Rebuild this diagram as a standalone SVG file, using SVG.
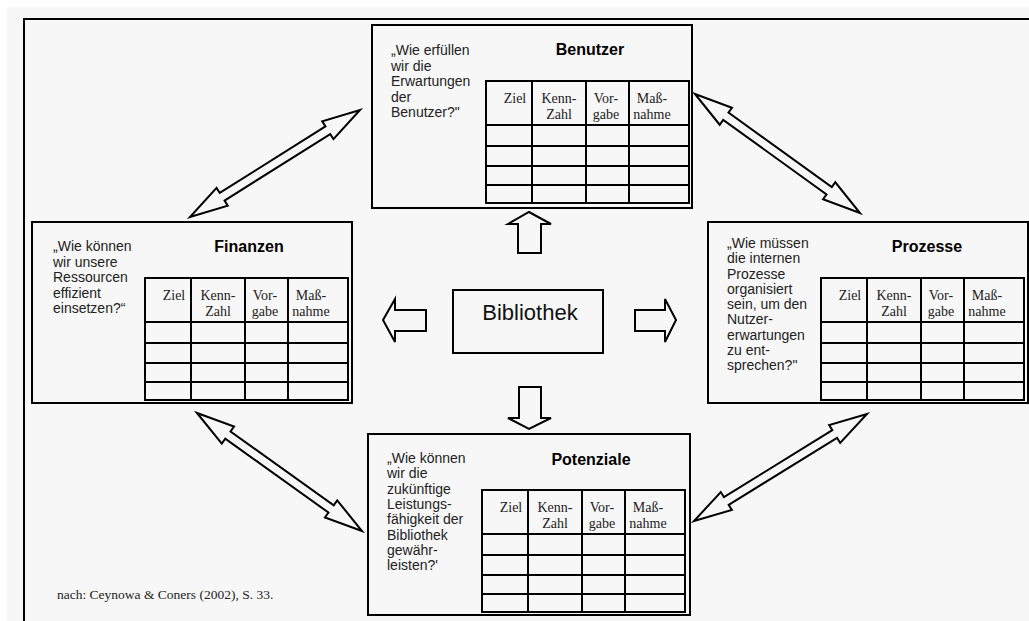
<svg xmlns="http://www.w3.org/2000/svg" xmlns:xlink="http://www.w3.org/1999/xlink" width="1029" height="621" viewBox="0 0 1029 621">
<style>
.box{fill:#f7f7f7;stroke:#000;stroke-width:2}
.grid rect,.grid line{fill:none;stroke:#000;stroke-width:2}
.q{font-family:"Liberation Sans",Arial,sans-serif;font-size:14px;fill:#222}
.t{font-family:"Liberation Sans",Arial,sans-serif;font-size:16px;font-weight:bold;text-anchor:middle;fill:#000}
.h{font-family:"Liberation Serif","Times New Roman",serif;font-size:14px;text-anchor:middle;fill:#222}
.c{font-family:"Liberation Sans",Arial,sans-serif;font-size:22px;text-anchor:middle;fill:#111}
.arrow{fill:#f7f7f7;stroke:#000;stroke-width:2;stroke-linejoin:miter}
.frame{stroke:#000;stroke-width:2;fill:none}
.note{font-family:"Liberation Serif","Times New Roman",serif;font-size:13.5px;fill:#222}
</style>
<defs>
<g id="grid" class="grid">
<rect x="0" y="0" width="203" height="122"/>
<line x1="46" y1="0" x2="46" y2="122"/>
<line x1="100" y1="0" x2="100" y2="122"/>
<line x1="143" y1="0" x2="143" y2="122"/>
<line x1="0" y1="44" x2="203" y2="44"/>
<line x1="0" y1="65" x2="203" y2="65"/>
<line x1="0" y1="85" x2="203" y2="85"/>
<line x1="0" y1="104" x2="203" y2="104"/>
</g>
</defs>
<rect x="0" y="0" width="1029" height="621" fill="#ffffff"/>
<rect x="7" y="7" width="1022" height="614" fill="#f7f7f7"/>
<path class="frame" d="M1029,19 H24 V621"/>

<g id="connectors">
<polygon class="arrow" points="529,212 551,224 541,224 541,253 518,253 518,224 508,224"/>
<polygon class="arrow" points="519,387 541,387 541,418 551,418 529,429 508,418 519,418"/>
<polygon class="arrow" points="383,320 395,299 395,310 426,310 426,331 395,331 395,342"/>
<polygon class="arrow" points="635,310 665,310 665,299 676,320 665,342 665,331 635,331"/>
<polygon class="arrow" points="190,217 227.75,205.65 224.56,200.57 330.24,134.05 333.43,139.13 360,110 322.25,121.35 325.44,126.43 219.76,192.95 216.57,187.87"/>
<polygon class="arrow" points="695,94 719.69,124.75 723.2,119.88 826.54,194.42 823.03,199.29 860,213 835.31,182.25 831.8,187.12 728.46,112.58 731.97,107.71"/>
<polygon class="arrow" points="197,413 221.8,443.64 225.29,438.76 328.47,512.56 324.98,517.44 362,531 337.2,500.36 333.71,505.24 230.53,431.44 234.02,426.56"/>
<polygon class="arrow" points="694,521 731.84,509.94 728.69,504.84 837.05,437.82 840.2,442.92 867,414 829.16,425.06 832.31,430.16 723.95,497.18 720.8,492.08"/>
</g>

<g id="benutzer">
<rect class="box" x="372" y="25" width="320" height="183"/>
<text class="t" x="590" y="55">Benutzer</text>
<text class="q"><tspan x="391" y="55">„Wie erfüllen</tspan><tspan x="391" y="70.5">wir die</tspan><tspan x="391" y="86">Erwartungen</tspan><tspan x="391" y="101.5">der</tspan><tspan x="391" y="117">Benutzer?"</tspan></text>
<use xlink:href="#grid" href="#grid" x="486" y="81"/>
<text class="h" x="515" y="103">Ziel</text>
<text class="h" x="559" y="103">Kenn-</text><text class="h" x="559" y="119">Zahl</text>
<text class="h" x="606" y="103">Vor-</text><text class="h" x="606" y="119">gabe</text>
<text class="h" x="652" y="103">Maß-</text><text class="h" x="652" y="119">nahme</text>
</g>

<g id="finanzen">
<rect class="box" x="32" y="222" width="320" height="181"/>
<text class="t" x="249" y="252">Finanzen</text>
<text class="q"><tspan x="53" y="251">„Wie können</tspan><tspan x="53" y="266.5">wir unsere</tspan><tspan x="53" y="282">Ressourcen</tspan><tspan x="53" y="297.5">effizient</tspan><tspan x="53" y="313">einsetzen?“</tspan></text>
<use xlink:href="#grid" href="#grid" x="145" y="278"/>
<text class="h" x="174" y="300">Ziel</text>
<text class="h" x="218" y="300">Kenn-</text><text class="h" x="218" y="316">Zahl</text>
<text class="h" x="265" y="300">Vor-</text><text class="h" x="265" y="316">gabe</text>
<text class="h" x="311" y="300">Maß-</text><text class="h" x="311" y="316">nahme</text>
</g>

<g id="prozesse">
<rect class="box" x="708" y="222" width="320" height="181"/>
<text class="t" x="927" y="252">Prozesse</text>
<text class="q"><tspan x="727" y="248">„Wie müssen</tspan><tspan x="727" y="263.25">die internen</tspan><tspan x="727" y="278.5">Prozesse</tspan><tspan x="727" y="293.75">organisiert</tspan><tspan x="727" y="309">sein, um den</tspan><tspan x="727" y="324.25">Nutzer-</tspan><tspan x="727" y="339.5">erwartungen</tspan><tspan x="727" y="354.75">zu ent-</tspan><tspan x="727" y="370">sprechen?"</tspan></text>
<use xlink:href="#grid" href="#grid" x="821" y="278"/>
<text class="h" x="850" y="300">Ziel</text>
<text class="h" x="894" y="300">Kenn-</text><text class="h" x="894" y="316">Zahl</text>
<text class="h" x="941" y="300">Vor-</text><text class="h" x="941" y="316">gabe</text>
<text class="h" x="987" y="300">Maß-</text><text class="h" x="987" y="316">nahme</text>
</g>

<g id="potenziale">
<rect class="box" x="368" y="434" width="322" height="181"/>
<text class="t" x="591" y="465">Potenziale</text>
<text class="q"><tspan x="387" y="463">„Wie können</tspan><tspan x="387" y="478.3">wir die</tspan><tspan x="387" y="493.6">zukünftige</tspan><tspan x="387" y="508.9">Leistungs-</tspan><tspan x="387" y="524.2">fähigkeit der</tspan><tspan x="387" y="539.5">Bibliothek</tspan><tspan x="387" y="554.8">gewähr-</tspan><tspan x="387" y="570">leisten?'</tspan></text>
<use xlink:href="#grid" href="#grid" x="482" y="490"/>
<text class="h" x="511" y="512">Ziel</text>
<text class="h" x="555" y="512">Kenn-</text><text class="h" x="555" y="528">Zahl</text>
<text class="h" x="602" y="512">Vor-</text><text class="h" x="602" y="528">gabe</text>
<text class="h" x="648" y="512">Maß-</text><text class="h" x="648" y="528">nahme</text>
</g>

<g id="bibliothek">
<rect class="box" x="453" y="290" width="150" height="63"/>
<text class="c" x="530" y="320">Bibliothek</text>
</g>

<text class="note" x="57" y="599">nach: Ceynowa &amp; Coners (2002), S. 33.</text>
</svg>
